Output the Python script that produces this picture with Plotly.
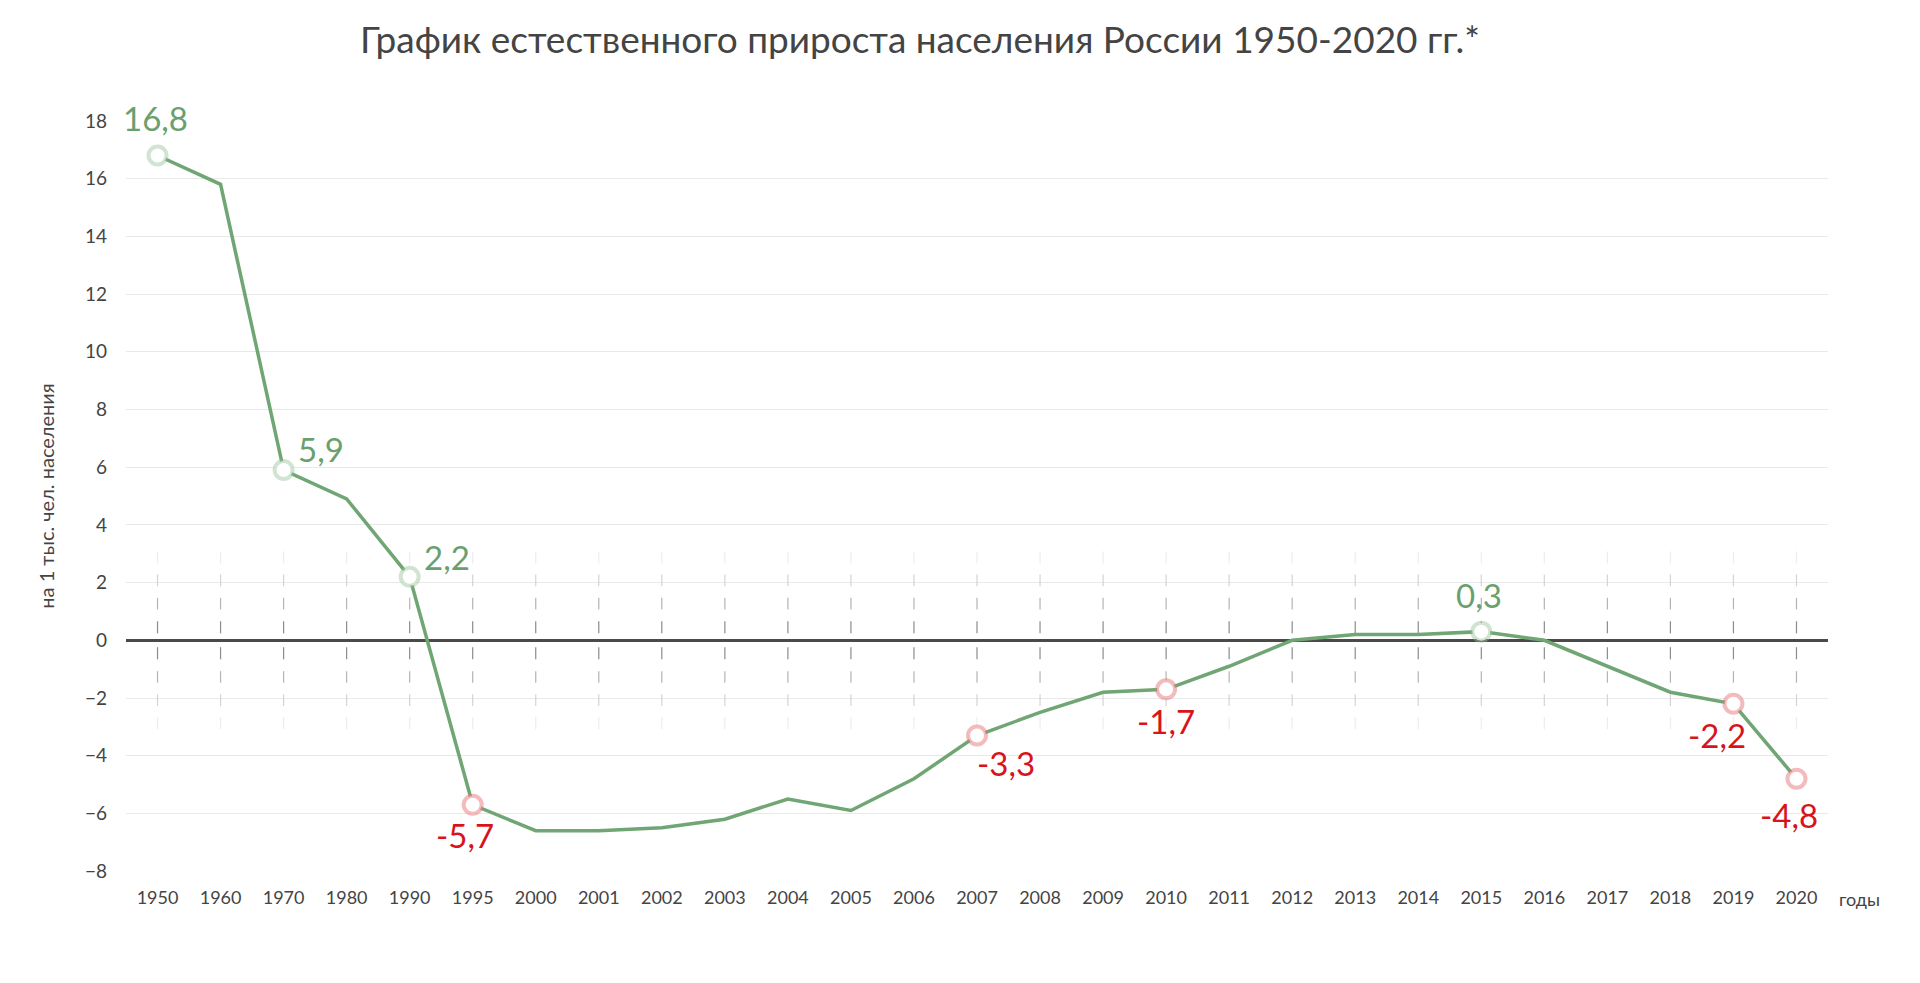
import plotly.graph_objects as go

years = ["1950", "1960", "1970", "1980", "1990", "1995", "2000", "2001", "2002",
         "2003", "2004", "2005", "2006", "2007", "2008", "2009", "2010", "2011",
         "2012", "2013", "2014", "2015", "2016", "2017", "2018", "2019", "2020"]
growth = [16.8, 15.8, 5.9, 4.9, 2.2, -5.7, -6.6, -6.6, -6.5, -6.2, -5.5, -5.9,
          -4.8, -3.3, -2.5, -1.8, -1.7, -0.9, 0.0, 0.2, 0.2, 0.3, 0.0, -0.9,
          -1.8, -2.2, -4.8]
marked_years = ["1950", "1970", "1990", "1995", "2007", "2010", "2015", "2019", "2020"]
y_ticks = [-8, -6, -4, -2, 0, 2, 4, 6, 8, 10, 12, 14, 16, 18]

title = "График естественного прироста населения России 1950-2020 гг.*"
y_title = "на 1 тыс. чел. населения"
x_unit = "годы"

FONT = "Lato"
LINE_GREEN = "#70a574"
TEXT_GREEN = "#6a9f6e"
TEXT_RED = "#d7141c"
GREY = "#444444"

# label offsets in px (x, y) relative to the marker
label_shift = {
    "1950": (-2, 37), "1970": (37, 21), "1990": (37, 20), "1995": (-8, -30),
    "2007": (29, -27), "2010": (0, -32), "2015": (-2, 37), "2019": (-16, -31),
    "2020": (-7, -36),
}

# x positions as category indices (numeric-looking strings confuse annotations)
xi = list(range(len(years)))

fig = go.Figure()

# faded dashed verticals around the zero line
rings = [((0.24, 0.66), "#8c8c8c"), ((1.07, 1.47), "#b4b4b4"),
         ((1.87, 2.28), "#d4d4d4"), ((2.66, 3.08), "#ededed")]
for (a, b), col in rings:
    xs, ys = [], []
    for i in xi:
        for s in (1, -1):
            xs += [i, i, None]
            ys += [s * a, s * b, None]
    fig.add_trace(go.Scatter(x=xs, y=ys, mode="lines", hoverinfo="skip",
                             line=dict(color=col, width=1.2), showlegend=False))

fig.add_trace(go.Scatter(x=xi, y=growth, mode="lines",
                         line=dict(color=LINE_GREEN, width=3.5),
                         showlegend=False))

mi = [years.index(y) for y in marked_years]
mv = [growth[i] for i in mi]
ring_cols = ["rgba(150,196,152,0.45)" if v >= 0 else "rgba(232,120,120,0.5)" for v in mv]
fig.add_trace(go.Scatter(x=mi, y=mv, mode="markers", showlegend=False,
                         marker=dict(size=18, color="white",
                                     line=dict(color=ring_cols, width=4))))

for yr, i, v in zip(marked_years, mi, mv):
    dx, dy = label_shift[yr]
    fig.add_annotation(x=i, y=v, text=f"{v:.1f}".replace(".", ","),
                       showarrow=False, xshift=dx, yshift=dy,
                       font=dict(family=FONT, size=33,
                                 color=TEXT_GREEN if v >= 0 else TEXT_RED))

fig.add_annotation(xref="paper", yref="paper", x=1.0, y=0, xshift=9, yshift=-27,
                   xanchor="left", yanchor="middle", text=x_unit, showarrow=False,
                   font=dict(family=FONT, size=18, color=GREY))

# page body has an 8px margin, so the figure is sized to fit inside the window
fig.update_layout(
    width=1904, height=967,
    paper_bgcolor="white", plot_bgcolor="white",
    margin=dict(l=118, r=84, t=112, b=103),
    font=dict(family=FONT, color=GREY),
    title=dict(text=title, x=0.479, xanchor="center", y=0.967, yanchor="middle",
               font=dict(family=FONT, size=37, color=GREY)),
    xaxis=dict(range=[-0.5, len(years) - 0.5], tickvals=xi, ticktext=years,
               showgrid=False, zeroline=False, showline=False,
               tickfont=dict(size=18, color=GREY), ticks="", ticklabelstandoff=13),
    yaxis=dict(range=[-8.03, 18.03], tickvals=y_ticks, showgrid=True,
               gridcolor="#e9e9e9", gridwidth=1,
               zeroline=True, zerolinecolor="#4a4a4a", zerolinewidth=3,
               tickfont=dict(size=19, color=GREY), ticks="", ticklabelstandoff=18,
               title=dict(text=y_title, standoff=24,
                          font=dict(family=FONT, size=20, color=GREY))),
)

fig.write_html("out.html")
